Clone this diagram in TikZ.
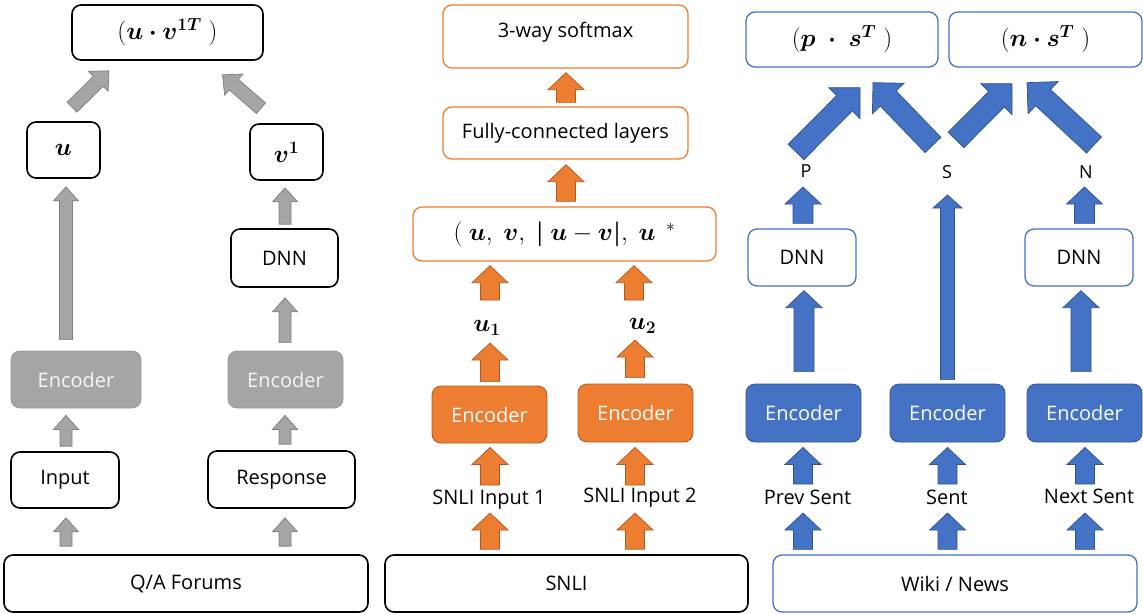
\RequirePackage{fix-cm}
\documentclass[tikz,border=0pt]{standalone}
\usepackage[no-math]{fontspec}
\setmainfont{Open Sans}
\usepackage{amsmath}
\usepackage{bm}
\usetikzlibrary{calc}

\definecolor{grayF}{HTML}{A5A5A5}
\definecolor{grayD}{HTML}{7F7F7F}
\definecolor{orF}{HTML}{ED7D31}
\definecolor{orD}{HTML}{AE5A21}
\definecolor{blF}{HTML}{4472C4}
\definecolor{blD}{HTML}{2F528F}

\newcommand{\tfont}{\fontsize{20}{24}\selectfont}
\newcommand{\mfont}{\fontsize{25}{29}\selectfont}

% block arrow: style, tail, tip, half shaft width, half head width, head length
\newcommand{\blockarr}[6]{%
  \coordinate (ba-a) at (#2);
  \coordinate (ba-b) at (#3);
  \coordinate (ba-n) at ($(ba-b)!#6!(ba-a)$);
  \draw[#1] ($(ba-a)!#4!90:(ba-b)$) -- ($(ba-n)!#4!90:(ba-b)$)
    -- ($(ba-n)!#5!90:(ba-b)$) -- (ba-b) -- ($(ba-n)!#5!-90:(ba-b)$)
    -- ($(ba-n)!#4!-90:(ba-b)$) -- ($(ba-a)!#4!-90:(ba-b)$) -- cycle;}

\begin{document}
\begin{tikzpicture}[x=1pt,y=-1pt,
  base/.style={rounded corners=9pt, inner sep=0pt, align=center, font=\tfont},
  kbox/.style={base, draw=black, line width=1.6pt, fill=white},
  obox/.style={base, draw=orF, line width=1.3pt, fill=white},
  bbox/.style={base, draw=blF, line width=1.3pt, fill=white},
  genc/.style={base, fill=grayF, draw=grayD!80, line width=0.8pt, text=white!94!gray},
  oenc/.style={base, fill=orF, draw=orD, line width=0.8pt, text=white},
  benc/.style={base, fill=blF, draw=blD, line width=0.8pt, text=white},
  lbl/.style={inner sep=0pt, text height=13pt, text depth=4pt, font=\tfont},
  mlbl/.style={inner sep=0pt, font=\mfont},
  garr/.style={fill=grayF, draw=grayD, line width=0.7pt, line join=miter},
  oarr/.style={fill=orF, draw=orD, line width=0.7pt, line join=miter},
  barr/.style={fill=blF, draw=blD, line width=0.7pt, line join=miter}]
\useasboundingbox (0,0) rectangle (1143,613);

% ---------- Q/A forums column ----------
\node[kbox, minimum width=191pt, minimum height=55pt, font=\mfont] (qtop) at (167.5,32.5)
  {$(\bm{u}\bm{\cdot}\bm{v}^{\bm{1T}}\;)$};
\node[kbox, minimum width=73pt, minimum height=56pt, font=\mfont] (uL) at (63.5,150) {$\bm{u}$};
\node[kbox, minimum width=73pt, minimum height=56pt, font=\mfont] (vL) at (286.5,152) {$\bm{v}^{\bm{1}}$};
\node[kbox, minimum width=107pt, minimum height=58pt] (dnnL) at (284.5,258) {DNN};
\node[genc, minimum width=130pt, minimum height=57pt] (encL1) at (76,379.5) {Encoder};
\node[genc, minimum width=115pt, minimum height=57pt] (encL2) at (285.5,379.5) {Encoder};
\node[kbox, minimum width=108pt, minimum height=56pt] (inpL) at (65,480) {Input};
\node[kbox, minimum width=147pt, minimum height=57pt] (respL) at (281.5,479.5) {Response};
\node[kbox, minimum width=364pt, minimum height=57pt] (qaF) at (186,583.5) {Q/A Forums};

\blockarr{garr}{[xshift=-120pt,yshift=8pt]qaF.north}{[xshift=1pt,yshift=-9pt]inpL.south}{6pt}{12.5pt}{14pt}
\blockarr{garr}{[xshift=99pt,yshift=8pt]qaF.north}{[xshift=3.5pt,yshift=-9pt]respL.south}{6pt}{12.5pt}{14pt}
\blockarr{garr}{[xshift=1pt,yshift=5pt]inpL.north}{[xshift=-10pt,yshift=-7pt]encL1.south}{6pt}{12.5pt}{14pt}
\blockarr{garr}{[xshift=3.5pt,yshift=6pt]respL.north}{[xshift=-0.5pt,yshift=-7pt]encL2.south}{6pt}{12.5pt}{14pt}
\blockarr{garr}{[xshift=-10pt,yshift=11pt]encL1.north}{[xshift=2.5pt,yshift=-8pt]uL.south}{6.5pt}{12.5pt}{14pt}
\blockarr{garr}{[xshift=-0.5pt,yshift=8pt]encL2.north}{[xshift=0.5pt,yshift=-10pt]dnnL.south}{6pt}{12.5pt}{14pt}
\blockarr{garr}{[xshift=0.5pt,yshift=4pt]dnnL.north}{[xshift=-1.5pt,yshift=-7pt]vL.south}{6pt}{12.5pt}{14pt}
\blockarr{garr}{[xshift=8.5pt,yshift=14pt]uL.north}{[xshift=-58.5pt,yshift=-10pt]qtop.south}{7pt}{14pt}{15pt}
\blockarr{garr}{[xshift=-25.5pt,yshift=15pt]vL.north}{[xshift=55pt,yshift=-14pt]qtop.south}{7pt}{14pt}{15pt}

% ---------- SNLI column ----------
\node[obox, minimum width=245pt, minimum height=63pt, text height=14pt, text depth=12pt] (smax) at (565.5,36.5) {3-way softmax};
\node[obox, minimum width=245pt, minimum height=52pt] (fcl) at (565.5,133) {Fully-connected layers};
\node[obox, minimum width=303pt, minimum height=54pt, font=\mfont] (cat) at (564.5,234)
  {$(\ \bm{u},\ \bm{v},\ \bm{|}\ \bm{u}-\bm{v}\bm{|},\ \bm{u}\ \,{}^{*}$};
\node[mlbl] (u1) at (487,328) {$\bm{u}_{\bm{1}}$};
\node[mlbl] (u2) at (642.5,326) {$\bm{u}_{\bm{2}}$};
\node[oenc, minimum width=115pt, minimum height=57pt] (encM1) at (489.5,414.5) {Encoder};
\node[oenc, minimum width=115pt, minimum height=58pt] (encM2) at (635.5,413) {Encoder};
\node[lbl] (in1) at (489,500) {SNLI Input 1};
\node[lbl] (in2) at (640,498) {SNLI Input 2};
\node[kbox, minimum width=363pt, minimum height=57pt] (snli) at (566.5,583.5) {SNLI};

\blockarr{oarr}{[xshift=-76.5pt,yshift=5pt]snli.north}{[xshift=1pt,yshift=-13pt]in1.center}{9.5pt}{18pt}{17pt}
\blockarr{oarr}{[xshift=68.5pt,yshift=5pt]snli.north}{[xshift=-5pt,yshift=-15pt]in2.center}{9.5pt}{18pt}{17pt}
\blockarr{oarr}{[xshift=1pt,yshift=15pt]in1.center}{[xshift=0.5pt,yshift=-4pt]encM1.south}{9.5pt}{18pt}{17pt}
\blockarr{oarr}{[xshift=-5pt,yshift=13pt]in2.center}{[xshift=-0.5pt,yshift=-5pt]encM2.south}{9.5pt}{18pt}{17pt}
\blockarr{oarr}{[xshift=0.5pt,yshift=4pt]encM1.north}{[xshift=3pt,yshift=-15pt]u1.center}{9.5pt}{18pt}{17pt}
\blockarr{oarr}{[xshift=-0.5pt,yshift=6pt]encM2.north}{[xshift=-7.5pt,yshift=-14pt]u2.center}{9.5pt}{18pt}{17pt}
\blockarr{oarr}{[xshift=3pt,yshift=28pt]u1.center}{[xshift=-74.5pt,yshift=-4pt]cat.south}{9.5pt}{18pt}{17pt}
\blockarr{oarr}{[xshift=-8.5pt,yshift=26pt]u2.center}{[xshift=69.5pt,yshift=-4pt]cat.south}{9.5pt}{18pt}{17pt}
\blockarr{oarr}{[xshift=1.5pt,yshift=5pt]cat.north}{[xshift=0.5pt,yshift=-5pt]fcl.south}{9.5pt}{18pt}{17pt}
\blockarr{oarr}{[xshift=0.5pt,yshift=4pt]fcl.north}{[xshift=0.5pt,yshift=-4pt]smax.south}{9.5pt}{18pt}{17pt}

% ---------- Wiki / News column ----------
\node[bbox, minimum width=192pt, minimum height=55pt, font=\mfont] (ps) at (842,39.5) {$(\bm{p}\;\bm{\cdot}\;\bm{s}^{\bm{T}}\;)$};
\node[bbox, minimum width=193pt, minimum height=55pt, font=\mfont] (ns) at (1045.5,39.5) {$(\bm{n}\bm{\cdot}\bm{s}^{\bm{T}}\;)$};
\node[lbl, font=\fontsize{18}{21}\selectfont] (P) at (806,173) {P};
\node[lbl, font=\fontsize{18}{21}\selectfont] (S) at (947,173.5) {S};
\node[lbl, font=\fontsize{18}{21}\selectfont] (N) at (1086,174) {N};
\node[bbox, minimum width=108pt, minimum height=57pt] (dnnR1) at (802,257.5) {DNN};
\node[bbox, minimum width=108pt, minimum height=57pt] (dnnR2) at (1079,257.5) {DNN};
\node[benc, minimum width=115pt, minimum height=58pt] (encR1) at (803.5,413) {Encoder};
\node[benc, minimum width=115pt, minimum height=58pt] (encR2) at (947.5,413) {Encoder};
\node[benc, minimum width=115pt, minimum height=58pt] (encR3) at (1084.5,413) {Encoder};
\node[lbl] (prev) at (807.5,500) {Prev Sent};
\node[lbl] (sent) at (947,500) {Sent};
\node[lbl] (next) at (1089,499) {Next Sent};
\node[bbox, minimum width=364pt, minimum height=57pt] (wiki) at (955,583.5) {Wiki / News};

\blockarr{barr}{[xshift=-152pt,yshift=5pt]wiki.north}{[xshift=-4.5pt,yshift=-13pt]prev.center}{9.5pt}{18pt}{17pt}
\blockarr{barr}{[xshift=-7.5pt,yshift=5pt]wiki.north}{[xshift=0.5pt,yshift=-13pt]sent.center}{9.5pt}{18pt}{17pt}
\blockarr{barr}{[xshift=130pt,yshift=5pt]wiki.north}{[xshift=-4pt,yshift=-14pt]next.center}{9.5pt}{18pt}{17pt}
\blockarr{barr}{[xshift=-4.5pt,yshift=16pt]prev.center}{[xshift=-0.5pt,yshift=-5pt]encR1.south}{9.5pt}{18pt}{17pt}
\blockarr{barr}{[xshift=0.5pt,yshift=16pt]sent.center}{[yshift=-5pt]encR2.south}{9.5pt}{18pt}{17pt}
\blockarr{barr}{[xshift=-4pt,yshift=15pt]next.center}{[xshift=0.5pt,yshift=-5pt]encR3.south}{9.5pt}{18pt}{17pt}
\blockarr{barr}{[xshift=0.5pt,yshift=12pt]encR1.north}{[xshift=2pt,yshift=-4pt]dnnR1.south}{10pt}{18pt}{17pt}
\blockarr{barr}{[yshift=4pt]encR2.north}{[xshift=0.5pt,yshift=-21.5pt]S.center}{7pt}{14.5pt}{13pt}
\blockarr{barr}{[xshift=-3.5pt,yshift=12pt]encR3.north}{[xshift=2pt,yshift=-4pt]dnnR2.south}{10pt}{18pt}{17pt}
\blockarr{barr}{[xshift=1pt,yshift=5pt]dnnR1.north}{[xshift=-3pt,yshift=-14pt]P.center}{10pt}{18pt}{17pt}
\blockarr{barr}{[xshift=5.5pt,yshift=5pt]dnnR2.north}{[xshift=-1.5pt,yshift=-13pt]N.center}{10pt}{18pt}{17pt}
\blockarr{barr}{[xshift=-10pt,yshift=21pt]P.center}{[xshift=18pt,yshift=-20pt]ps.south}{11pt}{22pt}{22pt}
\blockarr{barr}{[xshift=-14pt,yshift=28.5pt]S.center}{[xshift=31pt,yshift=-15pt]ps.south}{11pt}{22pt}{22pt}
\blockarr{barr}{[xshift=9pt,yshift=33.5pt]S.center}{[xshift=-33.5pt,yshift=-16pt]ns.south}{11pt}{22pt}{22pt}
\blockarr{barr}{[xshift=8pt,yshift=29pt]N.center}{[xshift=-18.5pt,yshift=-15pt]ns.south}{11pt}{22pt}{22pt}
\end{tikzpicture}
\end{document}
